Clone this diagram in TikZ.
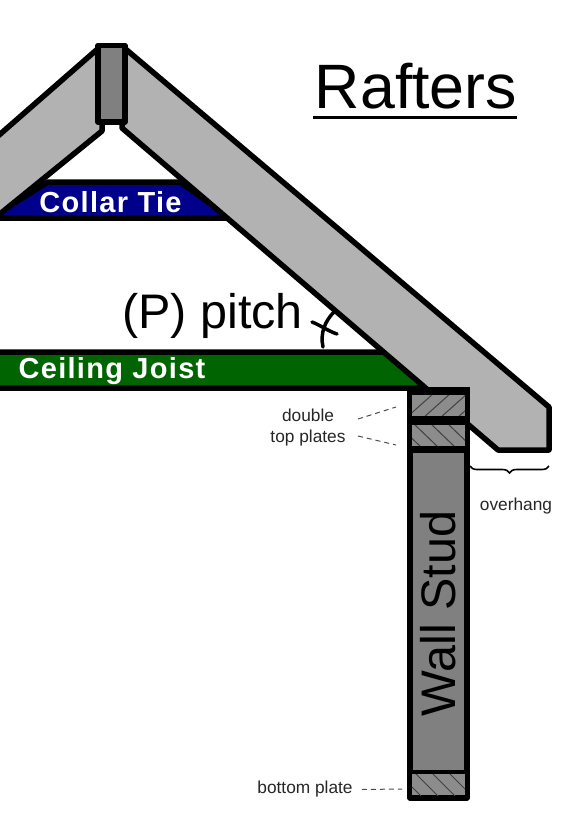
\documentclass[tikz,border=0pt]{standalone}
\usepackage{fontspec}
\setmainfont{Liberation Sans}
\usetikzlibrary{
    decorations.pathreplacing
}
\tikzset{
  lumber/.style={draw=black, line width=5.5pt, line join=round},
  rafter/.style={lumber, fill=rafterfill},
  stud/.style={lumber, fill=studfill},
  bar/.style={fill=black, draw=none},
  hatchline/.style={draw=hatch, line width=1pt},
  boldlabel/.style={text=white, inner sep=0pt,
                    font=\fontsize{29}{30}\selectfont\bfseries\addfontfeature{LetterSpace=4.5}},
  biglabel/.style={inner sep=0pt, font=\fontsize{48.5}{52}\selectfont},
  note/.style={inner sep=0pt, align=center, text=black!85, font=\fontsize{17.3}{21}\selectfont},
  lead/.style={line width=1pt, draw=black!70, dash pattern=on 5pt off 4pt},
}
\definecolor{rafterfill}{gray}{0.70}
\definecolor{studfill}{gray}{0.50}
\definecolor{platefill}{gray}{0.55}
\definecolor{hatch}{gray}{0.25}
\definecolor{tieblue}{RGB}{0,0,139}
\definecolor{joistgreen}{RGB}{0,100,0}
\begin{document}
\begin{tikzpicture}[x=1pt, y=-1pt]
  \useasboundingbox (0,0) rectangle (568,820);
  \clip (0,0) rectangle (568,820);

  \draw[lumber, fill=tieblue] (-10,218) -- (48,182) -- (180,182) -- (230,218) -- cycle;
  \draw[lumber, fill=joistgreen] (-10,352) -- (385,352) -- (430,388) -- (-10,388) -- cycle;

  \draw[rafter] (101,46) -- (-10,143) -- (-10,222) -- (102,131) -- (102,122) -- cycle;
  \draw[rafter] (122,46) -- (549,407) -- (549,450) -- (498,450) -- (122,128) -- cycle;
  \draw[stud] (98,45.5) rectangle (125,122);

  \draw[stud] (410,390) rectangle (467,798);

  \fill[platefill] (412,395) rectangle (465,416);
  \begin{scope}
    \clip (412,395) rectangle (465,416);
    \foreach \x in {420,437,454,471}
      \draw[hatchline] (\x-14,418) -- (\x+14,393);
  \end{scope}
  \fill[platefill] (412,425) rectangle (465,446);
  \begin{scope}
    \clip (412,425) rectangle (465,446);
    \foreach \x in {408,425,442,459}
      \draw[hatchline] (\x-12,423) -- (\x+14,448);
  \end{scope}
  \fill[platefill] (412,773) rectangle (465,795);
  \begin{scope}
    \clip (412,773) rectangle (465,795);
    \foreach \x in {408,425,442,459}
      \draw[hatchline] (\x-12,771) -- (\x+14,797);
  \end{scope}

  \fill[bar] (407.2,387) rectangle (469.8,395);
  \fill[bar] (407.2,416) rectangle (469.8,424.5);
  \fill[bar] (407.2,446) rectangle (469.8,453);
  \fill[bar] (407.2,770) rectangle (469.8,773.5);

  \node[inner sep=0pt, font=\fontsize{62.7}{66}\selectfont] (title) at (416,86) {Rafters};
  \draw[line width=3pt] (313,117) -- (517,117);

  \node[boldlabel] (collar) at (110.5,202) {Collar Tie};
  \node[boldlabel] (ceiling) at (112,371) {Ceiling Joist};
  \node[biglabel] (pitch) at (212.5,316) {(P) pitch};
  \node[biglabel, rotate=90] (wall) at (438,613.5) {Wall Stud};

  \draw[line width=3.5pt, line cap=round] (323,347) .. controls (320,333) and (325,321) .. (334,312);
  \draw[line width=3.5pt, line cap=round] (312,322) .. controls (320,325) and (328,331) .. (337,334);

  \node[note] (plates) at (308,428) {double\\top plates};
  \node[note] (overhang) at (516,506.5) {overhang};
  \node[note] (bottom) at (305,789.5) {bottom plate};

  \coordinate (upperplate) at (396,407);
  \coordinate (lowerplate) at (396,445);
  \coordinate (basePlate) at (402,789);
  \draw[lead] (358,419) -- (upperplate);
  \draw[lead] (358,436) -- (lowerplate);
  \draw[lead] (bottom.east) ++(9,0) -- (basePlate);

  \coordinate (bracestart) at (470,466);
  \coordinate (braceend) at (549,466);
  \draw[line width=1.6pt, decorate, decoration={brace, mirror, amplitude=7pt}]
    (bracestart) -- (braceend);
\end{tikzpicture}
\end{document}
